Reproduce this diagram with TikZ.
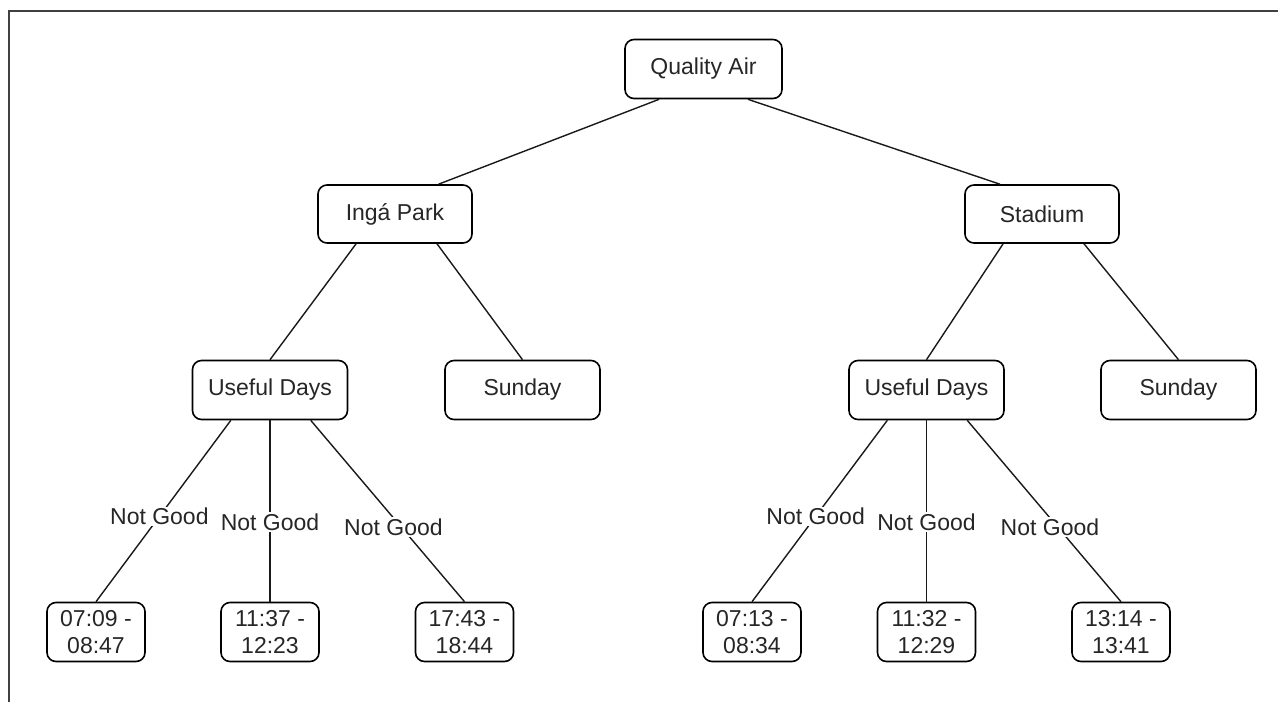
\documentclass[tikz,border=0pt]{standalone}
\usepackage{fontspec}
\setmainfont{Liberation Sans}
\usetikzlibrary{calc}
\tikzset{
  box/.style={draw=black, line width=1.6pt, rounded corners=9pt, fill=white,
    inner sep=0pt, align=center, text=black!85,
    font=\fontsize{23}{27}\selectfont},
  midbox/.style={box, minimum width=155pt, minimum height=59pt},
  leafbox/.style={box, minimum width=98pt, minimum height=59pt},
  link/.style={draw=black!90, line width=1.4pt},
  lbl/.style={fill=white, inner sep=1.5pt, text=black!85,
    font=\fontsize{23}{27}\selectfont},
  frame/.style={draw=black!75, line width=2pt}
}
\begin{document}
\begin{tikzpicture}[x=1pt,y=-1pt]
\useasboundingbox (0,0) rectangle (1278,702);
\coordinate (ftl) at (8.5,10.5);
\coordinate (ftr) at (1278,10.5);
\coordinate (fbl) at (8.5,702);
\draw[frame] (fbl) -- (ftl) -- (ftr);

\node[box, minimum width=157pt, minimum height=59pt] (qa) at (703.5,69) {Quality Air};
\node[midbox, minimum width=154pt, minimum height=58pt] (inga) at (395,214) {Ingá Park};
\node[midbox, minimum width=154pt, minimum height=58pt] (stad) at (1042,214) {Stadium};
\node[midbox] (udl) at (270,390) {Useful Days};
\node[midbox] (sunl) at (522.5,390) {Sunday};
\node[midbox] (udr) at (926.5,390) {Useful Days};
\node[midbox] (sunr) at (1178.5,390) {Sunday};

\node[leafbox] (l1) at (96,632) {07:09 -\\08:47};
\node[leafbox] (l2) at (270,632) {11:37 -\\12:23};
\node[leafbox] (l3) at (464.5,632) {17:43 -\\18:44};
\node[leafbox] (r1) at (752,632) {07:13 -\\08:34};
\node[leafbox] (r2) at (926.5,632) {11:32 -\\12:29};
\node[leafbox] (r3) at (1121,632) {13:14 -\\13:41};

\draw[link] ($(qa.south west)!0.22!(qa.south east)$) -- ($(inga.north west)!0.78!(inga.north east)$);
\draw[link] ($(qa.south west)!0.78!(qa.south east)$) -- ($(stad.north west)!0.23!(stad.north east)$);

\draw[link] ($(inga.south west)!0.25!(inga.south east)$) -- (udl.north);
\draw[link] ($(inga.south west)!0.77!(inga.south east)$) -- (sunl.north);
\draw[link] ($(stad.south west)!0.25!(stad.south east)$) -- (udr.north);
\draw[link] ($(stad.south west)!0.77!(stad.south east)$) -- (sunr.north);

\draw[link] ($(udl.south west)!0.25!(udl.south east)$) -- node[lbl, pos=0.53] {Not Good} (l1.north);
\draw[link] (udl.south) -- node[lbl, pos=0.56] {Not Good} (l2.north);
\draw[link] ($(udl.south west)!0.76!(udl.south east)$) -- node[lbl, pos=0.59, xshift=-8pt] {Not Good} (l3.north);

\draw[link] ($(udr.south west)!0.25!(udr.south east)$) -- node[lbl, pos=0.53] {Not Good} (r1.north);
\draw[link] (udr.south) -- node[lbl, pos=0.56] {Not Good} (r2.north);
\draw[link] ($(udr.south west)!0.76!(udr.south east)$) -- node[lbl, pos=0.59, xshift=-8pt] {Not Good} (r3.north);
\end{tikzpicture}
\end{document}
